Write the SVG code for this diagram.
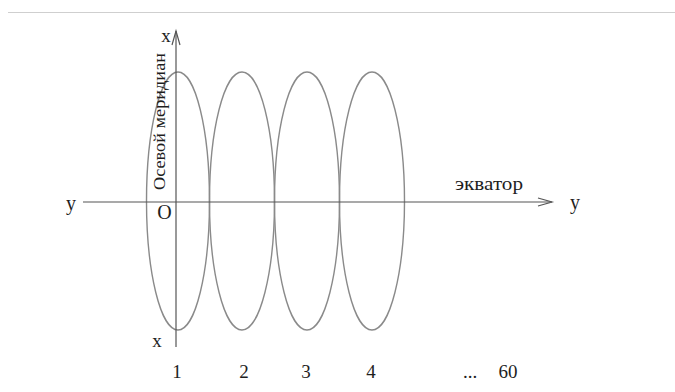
<svg xmlns="http://www.w3.org/2000/svg" width="675" height="392" viewBox="0 0 675 392">
  <style>
    .zone { fill: none; stroke: #8a8a8a; stroke-width: 1.4; }
    .axis { fill: none; stroke: #555; stroke-width: 1.2; }
    .lbl { font-family: "Liberation Serif", "Times New Roman", serif; fill: #1e1e1e; }
  </style>
  <defs>
    <marker id="open" markerUnits="userSpaceOnUse" markerWidth="20" markerHeight="12" viewBox="-15 -6 16 12" refX="0" refY="0" orient="auto">
      <path d="M -14 -4 L 0 0 L -14 4" fill="none" stroke="#555" stroke-width="1.2"/>
    </marker>
  </defs>
  <rect width="675" height="392" fill="#fff"/>
  <line x1="8" y1="12.5" x2="675" y2="12.5" stroke="#cfcfcf" stroke-width="1.2"/>

  <g id="zone1"><ellipse class="zone" cx="178" cy="201" rx="31.5" ry="129"/></g>
  <g id="zone2"><ellipse class="zone" cx="242" cy="201" rx="32.5" ry="129"/></g>
  <g id="zone3"><ellipse class="zone" cx="307" cy="201" rx="32.5" ry="129"/></g>
  <g id="zone4"><ellipse class="zone" cx="372" cy="201" rx="32.5" ry="129"/></g>

  <g id="connectors">
    <line class="axis" x1="176" y1="347" x2="176" y2="31" marker-end="url(#open)"/>
    <line class="axis" x1="83" y1="202" x2="552" y2="202" marker-end="url(#open)"/>
  </g>

  <g id="labels">
    <text class="lbl" x="166" y="42" font-size="19" text-anchor="middle">x</text>
    <text class="lbl" x="157" y="347" font-size="19" text-anchor="middle">x</text>
    <text class="lbl" x="71" y="210" font-size="20" text-anchor="middle">y</text>
    <text class="lbl" x="575" y="209" font-size="20" text-anchor="middle">y</text>
    <text class="lbl" x="164.5" y="219" font-size="20" text-anchor="middle">O</text>
    <text class="lbl" x="455" y="190" font-size="18" textLength="68" lengthAdjust="spacingAndGlyphs">экватор</text>
    <text class="lbl" transform="translate(165,190) rotate(-90)" font-size="16" textLength="137" lengthAdjust="spacingAndGlyphs">Осевой меридиан</text>
    <text class="lbl" x="177" y="378" font-size="19" text-anchor="middle">1</text>
    <text class="lbl" x="244" y="378" font-size="19" text-anchor="middle">2</text>
    <text class="lbl" x="306" y="378" font-size="19" text-anchor="middle">3</text>
    <text class="lbl" x="371" y="378" font-size="19" text-anchor="middle">4</text>
    <text class="lbl" x="470" y="378" font-size="19" text-anchor="middle">...</text>
    <text class="lbl" x="508" y="378" font-size="19" text-anchor="middle">60</text>
  </g>
</svg>
